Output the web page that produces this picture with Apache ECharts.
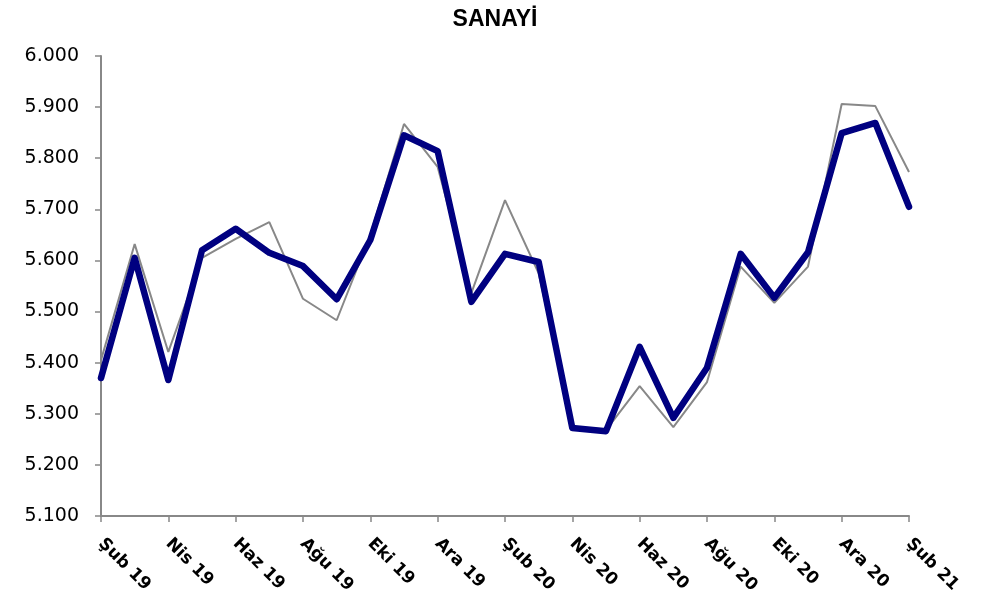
<!DOCTYPE html>
<html>
<head>
<meta charset="utf-8">
<script src="https://cdn.jsdelivr.net/npm/echarts@6/dist/echarts.min.js"></script>
<style>html,body{margin:0;padding:0;background:#fff}#c{width:990px;height:604px}</style>
</head>
<body>
<div id="c"></div>
<script>
var categories = ["Şub 19","Mar 19","Nis 19","May 19","Haz 19","Tem 19","Ağu 19","Eyl 19","Eki 19","Kas 19","Ara 19","Oca 20","Şub 20","Mar 20","Nis 20","May 20","Haz 20","Tem 20","Ağu 20","Eyl 20","Eki 20","Kas 20","Ara 20","Oca 21","Şub 21"];
var seriesBlue = [5370,5605,5366,5620,5662,5615,5589,5524,5640,5845,5814,5519,5613,5597,5272,5266,5431,5292,5390,5613,5527,5616,5849,5869,5705];
var seriesGray = [5405,5632,5421,5605,5642,5675,5525,5483,5650,5867,5783,5536,5718,5575,5275,5268,5354,5274,5362,5588,5517,5588,5906,5902,5773];
var yTicks = {min:5100, max:6000, interval:100};

var chart = echarts.init(document.getElementById('c'));
chart.setOption({
  animation:false,
  title:{text:'SANAYİ', left:'center', top:3, textStyle:{fontFamily:'Liberation Sans', fontWeight:'bold', fontSize:23, color:'#000'}},
  grid:{left:101, right:81, top:56, bottom:88},
  xAxis:{type:'category', data:categories, boundaryGap:false,
    axisLine:{lineStyle:{color:'#888', width:2}},
    axisTick:{show:true, interval:1, length:6, lineStyle:{color:'#888', width:1.5}},
    axisLabel:{interval:1, rotate:-45, fontFamily:'DejaVu Sans', fontWeight:'bold', fontSize:17, color:'#000', margin:25},
    splitLine:{show:false}},
  yAxis:{type:'value', min:yTicks.min, max:yTicks.max, interval:yTicks.interval,
    axisLine:{show:true, lineStyle:{color:'#888', width:2}},
    axisTick:{show:true, length:6, lineStyle:{color:'#888', width:1.5}},
    axisLabel:{fontFamily:'DejaVu Sans', fontSize:19, color:'#000', margin:22,
      formatter:function(v){return (v/1000).toFixed(3);}},
    splitLine:{show:false}},
  series:[
    {type:'line', data:seriesGray, symbol:'none', lineStyle:{color:'#888', width:2}, z:2},
    {type:'line', data:seriesBlue, symbol:'none', lineStyle:{color:'#000080', width:6.5, cap:'round', join:'round'}, z:3}
  ]
});
</script>
</body>
</html>
